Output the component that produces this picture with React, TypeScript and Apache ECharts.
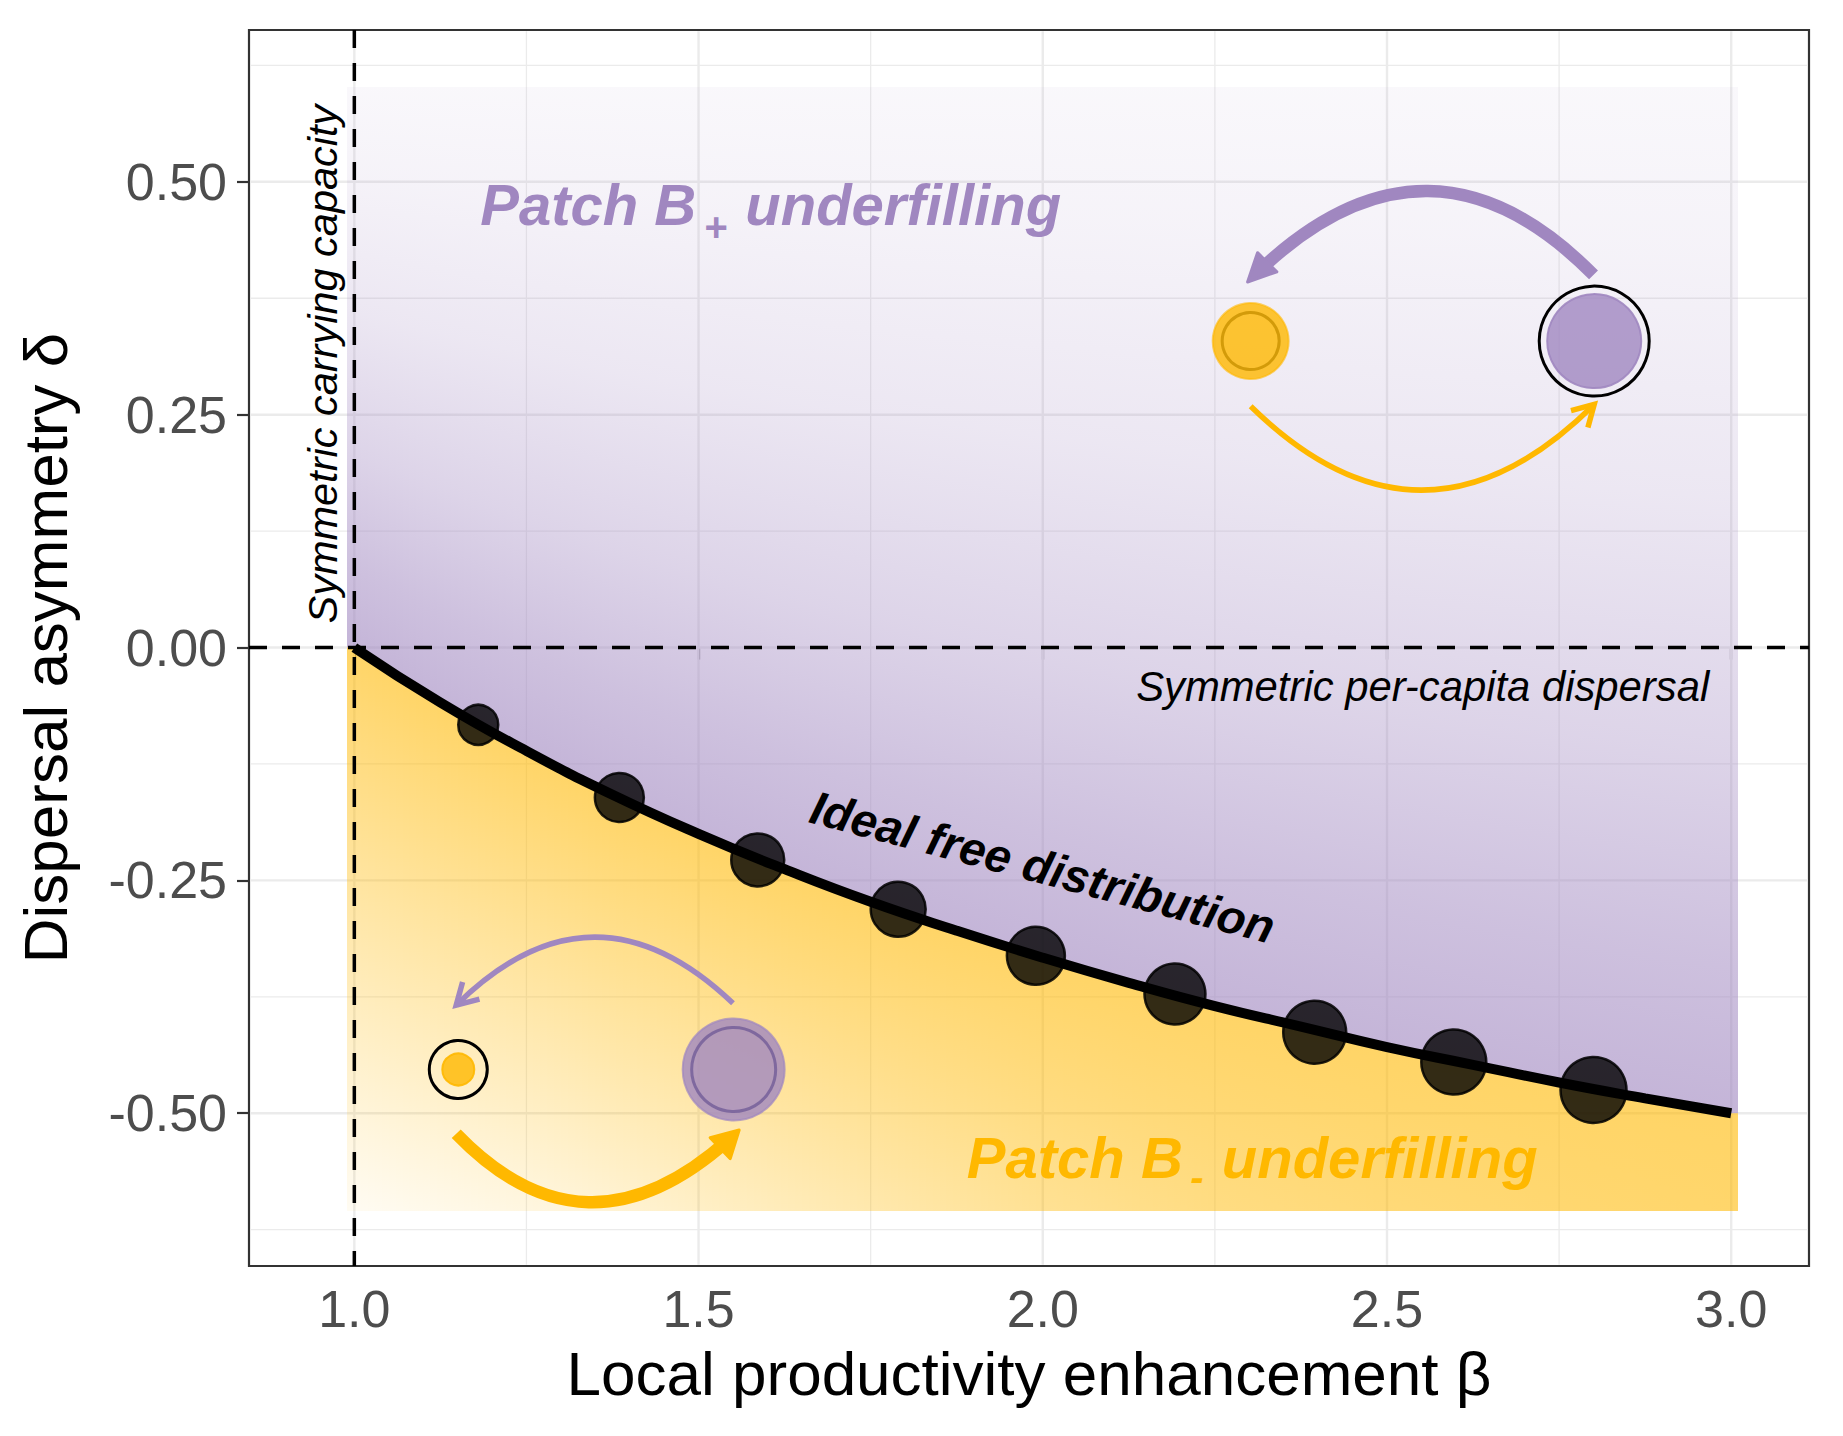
import React, { useEffect, useRef } from "react";
import * as echarts from "echarts";

// ---------- axis ticks / grid ----------
const xMajor = [1.0, 1.5, 2.0, 2.5, 3.0];
const xMinor = [1.25, 1.75, 2.25, 2.75];
const yMajor = [-0.5, -0.25, 0.0, 0.25, 0.5];
const yMinor = [-0.625, -0.375, -0.125, 0.125, 0.375, 0.625];

// ---------- ideal free distribution curve ----------
const curveBeta = [1.0, 1.125, 1.25, 1.375, 1.5, 1.625, 1.75, 1.875, 2.0, 2.125, 2.25, 2.375, 2.5, 2.625, 2.75, 2.875, 3.0];
const curveDelta = [0.0, -0.059, -0.111, -0.158, -0.2, -0.238, -0.273, -0.304, -0.333, -0.36, -0.385, -0.407, -0.429, -0.448, -0.467, -0.484, -0.5];

// ---------- points on the curve ----------
const dotBeta = [1.18, 1.385, 1.586, 1.79, 1.99, 2.192, 2.395, 2.597, 2.8];
const dotDelta = [-0.083, -0.161, -0.228, -0.281, -0.331, -0.372, -0.413, -0.445, -0.475];
const dotSize = [40, 49, 53, 55, 58, 61, 63, 65, 66];

// ---------- background shading (opacity) ----------
const shadeBeta = [1.0, 1.25, 1.5, 1.75, 2.0, 2.25, 2.5, 2.75, 3.0];
const yellowFarAlpha = [0.05, 0.12, 0.22, 0.32, 0.42, 0.49, 0.53, 0.56, 0.58];
const yellowNearAlpha = 0.6;
const purpleStopPos = [0, 0.15, 0.35, 0.6, 0.85, 1];
const purpleStopAlpha = [0.62, 0.52, 0.36, 0.2, 0.1, 0.06];
const fillBeta = [0.99, 3.01];
const fillDelta = [-0.605, 0.602];

const PURPLE = [160, 135, 192];
const YELLOW = [255, 184, 0];
const FONT = "Liberation Sans, Arial, Helvetica, sans-serif";

function interp(xs: number[], ys: number[], x: number): number {
  if (x <= xs[0]) return ys[0];
  if (x >= xs[xs.length - 1]) return ys[ys.length - 1];
  for (let i = 1; i < xs.length; i++) {
    if (x <= xs[i]) {
      const t = (x - xs[i - 1]) / (xs[i] - xs[i - 1]);
      return ys[i - 1] + t * (ys[i] - ys[i - 1]);
    }
  }
  return ys[ys.length - 1];
}
const rgba = (c: number[], a: number) => `rgba(${c[0]},${c[1]},${c[2]},${a.toFixed(3)})`;

export default function App() {
  const ref = useRef<HTMLDivElement>(null);
  useEffect(() => {
    if (!ref.current) return;
    const chart = echarts.init(ref.current, null, { renderer: "svg" });

    const background = {
      type: "custom",
      z: 1,
      silent: true,
      clip: false,
      data: [[1, 0]],
      renderItem: (params: any, api: any) => {
        const cs = params.coordSys;
        const children: any[] = [];
        const gx = (v: number) => api.coord([v, 0])[0];
        const gy = (v: number) => api.coord([1, v])[1];
        for (const v of xMinor)
          children.push({ type: "line", shape: { x1: gx(v), y1: cs.y + 1.2, x2: gx(v), y2: cs.y + cs.height - 1.2 }, style: { stroke: "#EBEBEB", lineWidth: 1.3 } });
        for (const v of yMinor)
          children.push({ type: "line", shape: { x1: cs.x + 1.2, y1: gy(v), x2: cs.x + cs.width - 1.2, y2: gy(v) }, style: { stroke: "#EBEBEB", lineWidth: 1.3 } });
        for (const v of xMajor)
          children.push({ type: "line", shape: { x1: gx(v), y1: cs.y + 1.2, x2: gx(v), y2: cs.y + cs.height - 1.2 }, style: { stroke: "#EBEBEB", lineWidth: 2.4 } });
        for (const v of yMajor)
          children.push({ type: "line", shape: { x1: cs.x + 1.2, y1: gy(v), x2: cs.x + cs.width - 1.2, y2: gy(v) }, style: { stroke: "#EBEBEB", lineWidth: 2.4 } });

        // shading strips
        const step = 0.01;
        const n = Math.round((fillBeta[1] - fillBeta[0]) / step);
        const yTop = Math.round(gy(fillDelta[1]));
        const yBot = Math.round(gy(fillDelta[0]));
        const boundary = (b: number) => interp(curveBeta, curveDelta, b);
        for (let i = 0; i < n; i++) {
          const b0 = fillBeta[0] + i * step;
          const b1 = Math.min(fillBeta[1], b0 + step);
          const x0 = Math.round(gx(b0));
          const x1 = Math.round(gx(b1));
          if (x1 <= x0) continue;
          const c0 = gy(boundary(b0));
          const c1 = gy(boundary(b1));
          const bm = (b0 + b1) / 2;
          const pStops = purpleStopPos.map((p, k) => ({ offset: 1 - p, color: rgba(PURPLE, purpleStopAlpha[k]) })).reverse();
          children.push({
            type: "polygon",
            shape: { points: [[x0, yTop], [x1, yTop], [x1, c1], [x0, c0]] },
            style: { fill: { type: "linear", x: 0, y: 0, x2: 0, y2: 1, colorStops: pStops, global: false } },
          });
          const far = interp(shadeBeta, yellowFarAlpha, bm);
          children.push({
            type: "polygon",
            shape: { points: [[x0, c0], [x1, c1], [x1, yBot], [x0, yBot]] },
            style: {
              fill: {
                type: "linear", x: 0, y: 0, x2: 0, y2: 1, global: false,
                colorStops: [
                  { offset: 0, color: rgba(YELLOW, yellowNearAlpha) },
                  { offset: 0.5, color: rgba(YELLOW, (yellowNearAlpha + far) / 2) },
                  { offset: 1, color: rgba(YELLOW, far) },
                ],
              },
            },
          });
        }
        // reference dashed lines
        children.push({ type: "line", shape: { x1: gx(1), y1: cs.y, x2: gx(1), y2: cs.y + cs.height }, style: { stroke: "#000", lineWidth: 3.5, lineDash: [18, 15] } });
        children.push({ type: "line", shape: { x1: cs.x, y1: gy(0), x2: cs.x + cs.width, y2: gy(0) }, style: { stroke: "#000", lineWidth: 3.5, lineDash: [18, 15] } });
        return { type: "group", children };
      },
    };

    const option: any = {
      animation: false,
      backgroundColor: "#ffffff",
      grid: { left: 249, right: 34, top: 30, bottom: 170, show: true, borderColor: "#333333", borderWidth: 2.2, backgroundColor: "transparent" },
      xAxis: {
        type: "value",
        min: 0.847,
        max: 3.113,
        name: "Local productivity enhancement β",
        nameLocation: "middle",
        nameGap: 76,
        nameTextStyle: { fontSize: 62, lineHeight: 62, color: "#000", fontFamily: FONT },
        axisLine: { show: false },
        splitLine: { show: false },
        axisTick: { show: true, customValues: xMajor, length: 12, lineStyle: { color: "#333333", width: 2.2 } },
        axisLabel: { customValues: xMajor, formatter: (v: number) => v.toFixed(1), fontSize: 52, lineHeight: 52, color: "#4D4D4D", margin: 17, fontFamily: FONT },
      },
      yAxis: {
        type: "value",
        min: -0.664,
        max: 0.663,
        name: "Dispersal asymmetry δ",
        nameLocation: "middle",
        nameGap: 173,
        nameTextStyle: { fontSize: 62, lineHeight: 62, color: "#000", fontFamily: FONT },
        axisLine: { show: false },
        splitLine: { show: false },
        axisTick: { show: true, customValues: yMajor, length: 12, lineStyle: { color: "#333333", width: 2.2 } },
        axisLabel: { customValues: yMajor, formatter: (v: number) => v.toFixed(2), fontSize: 52, lineHeight: 52, color: "#4D4D4D", margin: 22, fontFamily: FONT },
      },
      series: [
        background,
        {
          type: "scatter",
          z: 3,
          silent: true,
          data: dotBeta.map((b, i) => ({ value: [b, dotDelta[i]], symbolSize: dotSize[i] })),
          itemStyle: { color: "rgba(0,0,0,0.8)", borderColor: "rgba(0,0,0,0.85)", borderWidth: 2.5, opacity: 1 },
        },
        {
          type: "line",
          z: 4,
          silent: true,
          showSymbol: false,
          smooth: true,
          data: curveBeta.map((b, i) => [b, curveDelta[i]]),
          lineStyle: { color: "#000", width: 10, cap: "butt" },
        },
      ],
    };
    chart.setOption(option);

    const P = (b: number, d: number): number[] => chart.convertToPixel({ gridIndex: 0 }, [b, d]) as number[];
    const g: any[] = [];
    const txt = (x: number, y: number, text: string, size: number, color: string, align: string, weight: string, rot = 0) => {
      g.push({
        type: "text", x, y, rotation: rot, z: 100,
        style: { text, fill: color, fontSize: size, fontFamily: FONT, fontStyle: "italic", fontWeight: weight, align, verticalAlign: "middle" },
      });
    };

    // region labels
    const tp = P(1.183, 0.476);
    txt(tp[0], tp[1], "Patch B", 58, "#A087C0", "left", "bold");
    txt(tp[0] + 235, tp[1] + 23, "+", 40, "#A087C0", "center", "bold");
    txt(tp[0] + 265, tp[1], "underfilling", 58, "#A087C0", "left", "bold");
    const bp = P(1.8897, -0.5472);
    txt(bp[0], bp[1], "Patch B", 58, "#FFB800", "left", "bold");
    txt(bp[0] + 230, bp[1] + 20, "-", 40, "#FFB800", "center", "bold");
    txt(bp[0] + 255, bp[1], "underfilling", 58, "#FFB800", "left", "bold");

    const sc = P(0.9543, 0.3043);
    txt(sc[0], sc[1], "Symmetric carrying capacity", 41.5, "#000", "center", "normal", Math.PI / 2);
    const sd = P(2.968, -0.0416);
    txt(sd[0], sd[1], "Symmetric per-capita dispersal", 41.8, "#000", "right", "normal");
    const ifd = P(2.0, -0.2356);
    txt(ifd[0], ifd[1], "Ideal free distribution", 47, "#000", "center", "bold", (-14.8 * Math.PI) / 180);

    // patch icons
    const circle = (c: number[], r: number, style: any) => g.push({ type: "circle", z: 90, shape: { cx: c[0], cy: c[1], r }, style });
    const arrow = (from: number[], peak: number[], to: number[], color: string, width: number, closed: boolean, headLen: number, ang: number) => {
      const p0 = P(from[0], from[1]);
      const pk = P(peak[0], peak[1]);
      const p2 = P(to[0], to[1]);
      const c = [2 * pk[0] - (p0[0] + p2[0]) / 2, 2 * pk[1] - (p0[1] + p2[1]) / 2];
      const dx = p2[0] - c[0], dy = p2[1] - c[1];
      const len = Math.hypot(dx, dy);
      const ux = dx / len, uy = dy / len;
      const back = (a: number) => [-(ux * Math.cos(a) - uy * Math.sin(a)), -(ux * Math.sin(a) + uy * Math.cos(a))];
      const a1 = back(ang), a2 = back(-ang);
      const w1 = [p2[0] + headLen * a1[0], p2[1] + headLen * a1[1]];
      const w2 = [p2[0] + headLen * a2[0], p2[1] + headLen * a2[1]];
      let end = p2, cp = c;
      if (closed) {
        const t = 1 - (headLen * 0.5) / (2 * len);
        const lerp = (a: number[], b: number[], s: number) => [a[0] + (b[0] - a[0]) * s, a[1] + (b[1] - a[1]) * s];
        const q0 = lerp(p0, c, t), q1 = lerp(c, p2, t);
        end = lerp(q0, q1, t);
        cp = q0;
      }
      g.push({ type: "bezierCurve", z: 90, shape: { x1: p0[0], y1: p0[1], x2: end[0], y2: end[1], cpx1: cp[0], cpy1: cp[1] }, style: { stroke: color, lineWidth: width, fill: null } });
      if (closed) {
        g.push({ type: "polygon", z: 91, shape: { points: [w1, p2, w2] }, style: { fill: color, stroke: color, lineWidth: 3, lineJoin: "round" } });
      } else {
        g.push({ type: "polyline", z: 91, shape: { points: [w1, p2, w2] }, style: { stroke: color, lineWidth: width, fill: null, lineJoin: "miter" } });
      }
    };

    // top-right icon
    circle(P(2.302, 0.329), 38, { fill: "rgba(255,184,0,0.8)", stroke: "rgba(255,184,0,0.6)", lineWidth: 2 });
    circle(P(2.302, 0.329), 28.5, { fill: null, stroke: "rgba(200,145,0,0.8)", lineWidth: 3 });
    circle(P(2.801, 0.329), 47, { fill: "rgba(160,135,192,0.8)", stroke: "rgba(160,135,192,0.9)", lineWidth: 2 });
    circle(P(2.801, 0.329), 55, { fill: null, stroke: "#000", lineWidth: 3 });
    arrow([2.8, 0.4], [2.5515, 0.49], [2.2975, 0.3924], "#A087C0", 12.5, true, 31, (26 * Math.PI) / 180);
    arrow([2.302, 0.259], [2.5515, 0.169], [2.801, 0.261], "#FFB800", 5.5, false, 24, Math.PI / 6);

    // bottom-left icon
    circle(P(1.151, -0.453), 16, { fill: "rgba(255,184,0,0.8)", stroke: "rgba(255,184,0,0.9)", lineWidth: 2 });
    circle(P(1.151, -0.453), 29, { fill: null, stroke: "#000", lineWidth: 3 });
    circle(P(1.551, -0.453), 51, { fill: "rgba(160,135,192,0.8)", stroke: "rgba(160,135,192,0.7)", lineWidth: 2 });
    circle(P(1.551, -0.453), 42, { fill: null, stroke: "rgba(110,88,150,0.75)", lineWidth: 3 });
    arrow([1.55, -0.382], [1.348, -0.311], [1.148, -0.384], "#A087C0", 5.5, false, 24, Math.PI / 6);
    arrow([1.148, -0.522], [1.348, -0.5955], [1.559, -0.518], "#FFB800", 12.5, true, 30, (29 * Math.PI) / 180);

    chart.setOption({ graphic: { elements: g } });

    return () => chart.dispose();
  }, []);

  return <div ref={ref} style={{ position: "fixed", left: 0, top: 0, width: 1843, height: 1436, background: "#fff" }} />;
}
